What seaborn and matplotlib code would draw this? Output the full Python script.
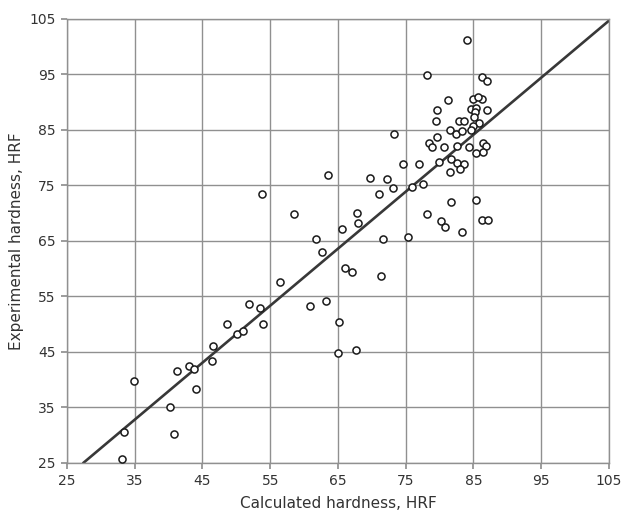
import matplotlib
matplotlib.use("Agg")
import matplotlib.pyplot as plt
import seaborn as sns
import pandas as pd

calc = [84.0, 78.2, 86.2, 87.0, 81.3, 84.9, 86.2, 85.7, 79.6, 84.6, 85.3, 85.2, 87.0,
        79.4, 82.8, 83.6, 85.1, 85.8, 84.9, 81.5, 82.4, 83.3, 84.7, 73.3, 79.6,
        78.4, 78.9, 80.6, 82.5, 84.3, 86.4, 86.8, 85.4, 86.4, 81.7, 79.9, 82.5,
        83.6, 83.0, 81.5, 74.6, 76.9, 69.7, 72.3, 73.1, 75.9, 77.6, 71.0, 81.7,
        85.4, 67.8, 68.0, 65.6, 78.2, 80.2, 80.8, 83.3, 86.3, 87.1, 71.6, 75.4,
        63.5, 53.8, 58.5, 61.8, 62.6, 66.0, 67.1, 71.3, 60.9, 63.2, 65.1, 65.0,
        67.6, 56.5, 51.8, 53.5, 54.0, 48.6, 50.1, 51.0, 46.5, 46.4, 43.0, 43.7,
        41.3, 44.0, 34.9, 40.2, 40.8, 33.4, 33.1]
expt = [101.3, 94.9, 94.6, 93.8, 90.4, 90.6, 90.6, 91.0, 88.6, 88.8, 89.0, 88.3, 88.6,
        86.6, 86.6, 86.7, 87.3, 86.2, 85.8, 85.0, 84.2, 84.9, 85.0, 84.2, 83.7,
        82.6, 82.0, 81.9, 82.2, 81.9, 82.6, 82.1, 80.8, 81.1, 79.8, 79.2, 79.0,
        78.8, 77.9, 77.4, 78.8, 78.8, 76.4, 76.1, 74.5, 74.8, 75.3, 73.5, 72.0,
        72.3, 70.1, 68.3, 67.2, 69.9, 68.6, 67.5, 66.7, 68.8, 68.8, 65.4, 65.7,
        76.9, 73.5, 69.9, 65.4, 63.0, 60.2, 59.4, 58.7, 53.2, 54.2, 50.4, 44.9,
        45.4, 57.6, 53.7, 52.9, 50.1, 50.1, 48.2, 48.7, 46.0, 43.3, 42.5, 41.9,
        41.5, 38.3, 39.7, 35.0, 30.3, 30.5, 25.8]

line_x = [27.4, 105.0]
line_y = [25.0, 104.7]

ticks = [25, 35, 45, 55, 65, 75, 85, 95, 105]

df = pd.DataFrame({"calc": calc, "expt": expt})

sns.set_theme(style="white")
plt.rcParams['font.family'] = ['DejaVu Sans']

fig = plt.figure(figsize=(6.23, 5.26), dpi=100)
ax = fig.add_axes([0.1075, 0.1198, 0.8700, 0.8441])

ax.set_xlim(25, 105)
ax.set_ylim(25, 105)
ax.set_xticks(ticks)
ax.set_yticks(ticks)
ax.set_xticklabels([str(t) for t in ticks])
ax.set_yticklabels([str(t) for t in ticks])
ax.grid(True, color="#909090", linewidth=1.0)
ax.set_axisbelow(True)
for s in ax.spines.values():
    s.set_color("#909090")
    s.set_linewidth(1.0)

ax.plot(line_x, line_y, color="#383838", linewidth=1.9, zorder=2)

sns.scatterplot(data=df, x="calc", y="expt", ax=ax, marker="o", s=26,
                facecolor="white", edgecolor="#1a1a1a", linewidth=1.1, zorder=3)

ax.tick_params(axis="both", which="both", length=4, color="#909090",
               labelsize=10, labelcolor="#333333", pad=4,
               left=True, bottom=True)
ax.set_xlabel("Calculated hardness, HRF", fontsize=11, color="#333333", labelpad=6)
ax.set_ylabel("Experimental hardness, HRF", fontsize=11, color="#333333", labelpad=4)

fig.savefig("out.png", dpi=100, facecolor="white")
